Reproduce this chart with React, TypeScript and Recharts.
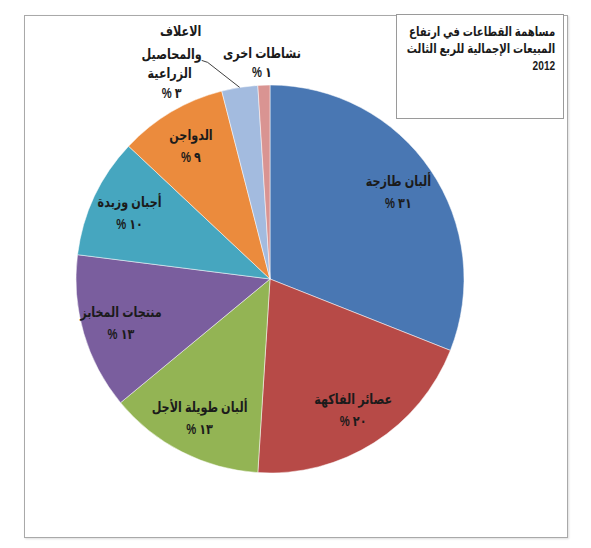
import { PieChart, Pie, Cell } from "recharts"

// sectors, clockwise from 12 o'clock
const sectors = [
  'ألبان طازجة',
  'عصائر الفاكهة',
  'ألبان طويلة الأجل',
  'منتجات المخابز',
  'أجبان وزبدة',
  'الدواجن',
  'الاعلاف والمحاصيل الزراعية',
  'نشاطات اخرى',
]
const shares = [31, 20, 13, 13, 10, 9, 3, 1]
const shareLabels = ['٣١', '٢٠', '١٣', '١٣', '١٠', '٩', '٣', '١']
const colors = ['#4977B3', '#B74A47', '#93B454', '#7A5E9E', '#46A6BF', '#EB8B3D', '#A3BBDF', '#D99492']

const titleLines = ['مساهمة القطاعات في ارتفاع', 'المبيعات الإجمالية للربع الثالث', '2012']

const data = sectors.map((name, i) => ({ name, value: shares[i], pct: shareLabels[i] }))

const RAD = Math.PI / 180
const textStyle = { fontFamily: "Arial, 'DejaVu Sans', sans-serif", fontWeight: 'bold' as const, fontSize: 14, fill: '#1b1b1b' }

// narrow the wide fallback Arabic face a little
const Txt = ({ x, y, ltr, children }: { x: number; y: number; ltr?: boolean; children: any }) => (
  <text
    transform={`translate(${x},${y}) scale(0.8,1)`}
    textAnchor="middle"
    dominantBaseline="central"
    style={ltr ? { ...textStyle, direction: 'ltr', unicodeBidi: 'bidi-override' } : textStyle}
  >
    {children}
  </text>
)

const renderLabel = (props: any) => {
  const { cx, cy, midAngle, outerRadius, index } = props
  const cos = Math.cos(-midAngle * RAD)
  const sin = Math.sin(-midAngle * RAD)
  const pct = '% ' + shareLabels[index]

  if (index === 6) {
    // outside label with leader line
    const ex = cx + outerRadius * cos
    const ey = cy + outerRadius * sin
    const mx = ex - 32
    const my = ey - 25
    const tx = mx - 36
    return (
      <g>
        <polyline points={`${ex},${ey} ${mx},${my} ${mx - 6},${my - 2}`} fill="none" stroke="#404040" strokeWidth={1} />
        <Txt x={tx + 9} y={my - 31}>الاعلاف</Txt>
        <Txt x={tx} y={my - 8}>والمحاصيل</Txt>
        <Txt x={tx - 2} y={my + 11}>الزراعية</Txt>
        <Txt x={tx} y={my + 31} ltr>{pct}</Txt>
      </g>
    )
  }
  if (index === 7) {
    const ex = cx + outerRadius * cos
    const ey = cy + outerRadius * sin
    return (
      <g>
        <Txt x={ex - 2} y={ey - 32}>{sectors[index]}</Txt>
        <Txt x={ex - 2} y={ey - 13} ltr>{pct}</Txt>
      </g>
    )
  }
  const r = outerRadius * 0.8
  const x = cx + r * cos
  const y = cy + r * sin
  return (
    <g>
      <Txt x={x} y={y - 10}>{sectors[index]}</Txt>
      <Txt x={x} y={y + 12} ltr>{pct}</Txt>
    </g>
  )
}

export default function App() {
  return (
    <div style={{ position: 'absolute', left: 0, top: 0, width: 591, height: 548, background: '#fff' }}>
      <div style={{ position: 'absolute', left: 24, top: 15, width: 542, height: 521, border: '1.5px solid #a9a9a9', boxShadow: '1px 1px 2px #ddd' }} />
      <div style={{ position: 'absolute', left: 0, top: 0 }}>
        <PieChart width={591} height={548}>
          <Pie
            data={data}
            dataKey="value"
            nameKey="name"
            cx={265}
            cy={274}
            outerRadius={194}
            startAngle={90}
            endAngle={-270}
            stroke="#ffffff"
            strokeWidth={0.5}
            label={renderLabel}
            labelLine={false}
            isAnimationActive={false}
          >
            {data.map((d, i) => (
              <Cell key={d.name} fill={colors[i]} />
            ))}
          </Pie>
        </PieChart>
      </div>
      <div style={{ position: 'absolute', left: 396, top: 14, width: 168, height: 105, border: '1px solid #9a9a9a', background: '#fff', boxSizing: 'border-box' }}>
        <div style={{ position: 'absolute', right: 8, top: 8, direction: 'rtl', textAlign: 'right', whiteSpace: 'nowrap', transform: 'scaleX(0.78)', transformOrigin: 'right top', fontFamily: "Arial, 'DejaVu Sans', sans-serif", fontWeight: 'bold', fontSize: 13, lineHeight: '17px', color: '#1b1b1b' }}>
          {titleLines.map((t) => (
            <div key={t}>{t}</div>
          ))}
        </div>
      </div>
    </div>
  )
}
